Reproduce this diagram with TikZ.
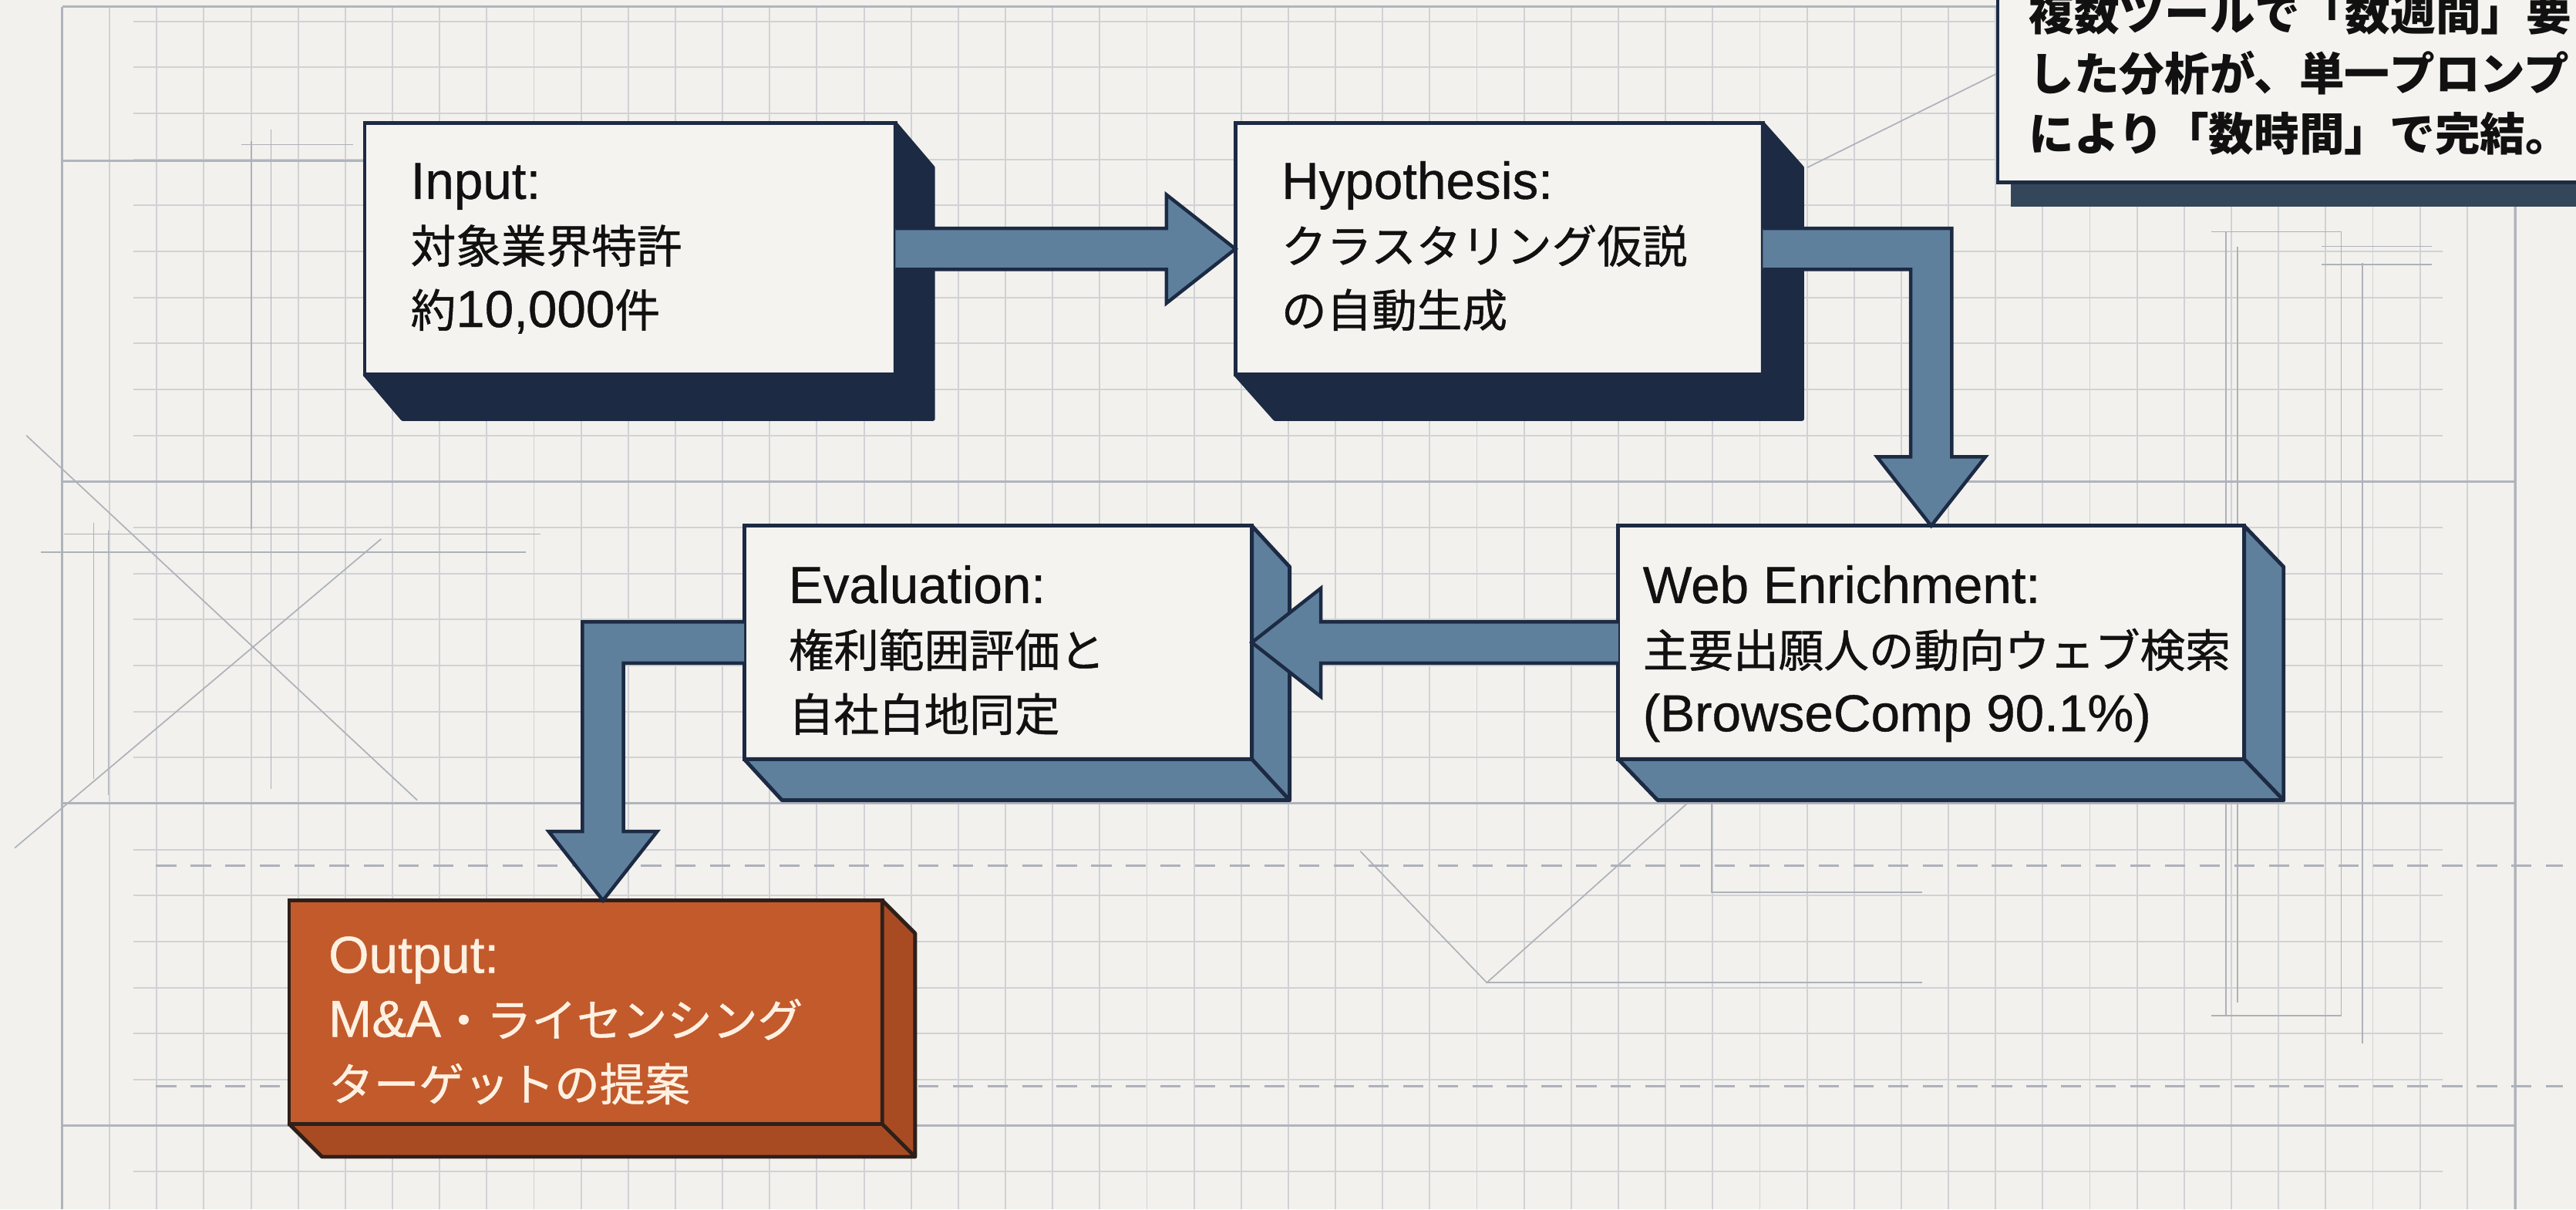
\documentclass[tikz,border=0pt]{standalone}
\usepackage{fontspec}
\setmainfont{Liberation Sans}[FakeBold=0.6]
\newfontfamily\jp{Noto Sans CJK JP}[Scale=0.87, FakeBold=0.8]
\newfontfamily\jpb{Noto Sans CJK JP}[Scale=0.87]
\usetikzlibrary{calc}
\definecolor{bg}{HTML}{F2F1ED}
\definecolor{gridc}{HTML}{D0D2D7}
\definecolor{gridd}{HTML}{B0B4BC}
\definecolor{sketchc}{HTML}{ADB1BA}
\definecolor{navy}{HTML}{1C2A43}
\definecolor{steel}{HTML}{5F809D}
\definecolor{front}{HTML}{F4F3F0}
\definecolor{orng}{HTML}{C25A2C}
\definecolor{oside}{HTML}{A84B23}
\definecolor{obord}{HTML}{2E1F1A}
\definecolor{shadowc}{HTML}{34475A}
\definecolor{ink}{HTML}{111111}
\definecolor{otext}{HTML}{FFF1E2}
\def\ash{12.5}
\def\ahh{33}
\def\ahl{42}
\tikzset{
  frontbox/.style={draw=navy, line width=1.3pt, fill=front, inner sep=0pt, outer sep=0pt},
  outbox/.style={draw=obord, line width=1.3pt, fill=orng, inner sep=0pt, outer sep=0pt},
  navyside/.style={fill=navy, draw=navy, line width=1.3pt, line join=round},
  steelside/.style={fill=steel, draw=navy, line width=1.3pt, line join=round},
  orangeside/.style={fill=oside, draw=obord, line width=1.3pt, line join=round},
  blockarrow/.style={fill=steel, draw=navy, line width=1.2pt, line join=miter},
  boxtext/.style={anchor=base west, inner sep=0pt, outer sep=0pt, text=ink, font=\fontsize{18}{22.2}\selectfont},
  notetext/.style={anchor=base west, inner sep=0pt, outer sep=0pt, text=ink, font=\fontsize{18}{20.8}\selectfont},
  gridminor/.style={draw=gridc, line width=0.5pt},
  gridmajor/.style={draw=gridd, line width=0.8pt},
  sketch/.style={draw=sketchc, line width=0.45pt},
  dashline/.style={draw=sketchc, line width=0.8pt, dash pattern=on 7pt off 5pt},
}
\begin{document}
\begin{tikzpicture}[x=0.02cm, y=-0.02cm]
\useasboundingbox (0,0) rectangle (1568,736);
\clip (0,0) rectangle (1568,736);
\fill[bg] (0,0) rectangle (1568,736);
% grid
\foreach \k in {0,...,52} \draw[gridminor] ({38+28.7*\k},4) -- ({38+28.7*\k},736);
\foreach \k in {0,...,25} \draw[gridminor] (81,{13+28*\k}) -- (1487,{13+28*\k});
\draw[gridmajor] (38,4) -- (38,736);
\draw[gridmajor] (1531,4) -- (1531,736);
\draw[gridmajor] (38,4) -- (1531,4);
\draw[gridmajor] (38,98) -- (345,98);
\draw[gridmajor] (38,293) -- (1531,293);
\draw[gridmajor] (38,489) -- (1531,489);
\draw[gridmajor] (38,685) -- (1531,685);
% sketch lines
\draw[sketch] (16,265) -- (254,487);
\draw[sketch] (9,516) -- (232,328);
\draw[sketch] (153,86) -- (153,322);
\draw[sketch] (165,79) -- (165,480);
\draw[sketch] (57,318) -- (57,474);
\draw[sketch] (66,323) -- (66,484);
\draw[sketch] (147,88) -- (215,88);
\draw[sketch] (39,325) -- (329,325);
\draw[sketch] (25,336) -- (320,336);
\draw[sketch] (828,518) -- (905,598) -- (1028,488);
\draw[sketch] (905,598) -- (1170,598);
\draw[sketch] (1042,488) -- (1042,543) -- (1170,543);
\draw[sketch] (1346,141) -- (1425,141) -- (1425,618) -- (1346,618);
\draw[sketch] (1355,141) -- (1355,618);
\draw[sketch] (1362,150) -- (1362,610);
\draw[sketch] (1438,160) -- (1438,635);
\draw[sketch] (1413,150) -- (1480,150);
\draw[sketch] (1413,161) -- (1480,161);
\draw[sketch] (1100,102) -- (1215,45);
\draw[dashline] (95,527) -- (1560,527);
\draw[dashline] (95,661) -- (1560,661);
% note box
\fill[shadowc] (1224,-10) rectangle (1580,126);
\node[frontbox, minimum width={(1580-1216)*0.02cm}, minimum height={(111+20)*0.02cm}] (note) at ({(1216+1580)/2},{(111-20)/2}) {};
\node[notetext] (notet) at (1235,18.5) {\begin{tabular}[t]{@{}l@{}}{\jpb\bfseries 複数ツールで「数週間」要}\\{\jpb\bfseries した分析が、単一プロンプ}\\{\jpb\bfseries により「数時間」で完結。}\end{tabular}};
% Input box
\node[frontbox, minimum width={(545-222)*0.02cm}, minimum height={(228-75)*0.02cm}] (inp) at ({(222+545)/2},{(75+228)/2}) {};
\path[navyside] (inp.north east) -- ++(23,27) -- ($(inp.south east)+(23,27)$) -- ($(inp.south west)+(23,27)$) -- (inp.south west) -- (inp.south east) -- cycle;
\node[boxtext] (inpt) at (250,121) {\begin{tabular}[t]{@{}l@{}}Input:\\{\jp 対象業界特許}\\{\jp 約}10,000{\jp 件}\end{tabular}};
% Hypothesis box
\node[frontbox, minimum width={(1073-752)*0.02cm}, minimum height={(228-75)*0.02cm}] (hyp) at ({(752+1073)/2},{(75+228)/2}) {};
\path[navyside] (hyp.north east) -- ++(24,27) -- ($(hyp.south east)+(24,27)$) -- ($(hyp.south west)+(24,27)$) -- (hyp.south west) -- (hyp.south east) -- cycle;
\node[boxtext] (hypt) at (780,121) {\begin{tabular}[t]{@{}l@{}}Hypothesis:\\{\jp クラスタリング仮説}\\{\jp の自動生成}\end{tabular}};
% Web box
\node[frontbox, minimum width={(1366-985)*0.02cm}, minimum height={(462-320)*0.02cm}] (web) at ({(985+1366)/2},{(320+462)/2}) {};
\path[steelside] (web.north east) -- ++(24,25) -- ($(web.south east)+(24,25)$) -- ($(web.south west)+(24,25)$) -- (web.south west) -- (web.south east) -- cycle;
\draw[navy, line width=1.3pt] (web.south east) -- ++(24,25);
\node[boxtext] (webt) at (1000,367) {\begin{tabular}[t]{@{}l@{}}Web Enrichment:\\{\jp 主要出願人の動向ウェブ検索}\\(BrowseComp 90.1\%)\end{tabular}};
% Evaluation box
\node[frontbox, minimum width={(762-453)*0.02cm}, minimum height={(462-320)*0.02cm}] (eva) at ({(453+762)/2},{(320+462)/2}) {};
\path[steelside] (eva.north east) -- ++(23,25) -- ($(eva.south east)+(23,25)$) -- ($(eva.south west)+(23,25)$) -- (eva.south west) -- (eva.south east) -- cycle;
\draw[navy, line width=1.3pt] (eva.south east) -- ++(23,25);
\node[boxtext] (evat) at (480,367) {\begin{tabular}[t]{@{}l@{}}Evaluation:\\{\jp 権利範囲評価と}\\{\jp 自社白地同定}\end{tabular}};
% Output box
\node[outbox, minimum width={(537-176)*0.02cm}, minimum height={(684-548)*0.02cm}] (out) at ({(176+537)/2},{(548+684)/2}) {};
\path[orangeside] (out.north east) -- ++(20,20) -- ($(out.south east)+(20,20)$) -- ($(out.south west)+(20,20)$) -- (out.south west) -- (out.south east) -- cycle;
\draw[obord, line width=1.3pt] (out.south east) -- ++(20,20);
\node[boxtext, text=otext] (outt) at (200,592) {\begin{tabular}[t]{@{}l@{}}Output:\\M\&A{\jp ・ライセンシング}\\{\jp ターゲットの提案}\end{tabular}};
\coordinate (outin) at ($(out.north west)+(191,0)$);
% arrows
\filldraw[blockarrow] ($(inp.east)+(0,-\ash)$) -- ($(hyp.west)+(-\ahl,-\ash)$) -- ($(hyp.west)+(-\ahl,-\ahh)$) -- (hyp.west) -- ($(hyp.west)+(-\ahl,\ahh)$) -- ($(hyp.west)+(-\ahl,\ash)$) -- ($(inp.east)+(0,\ash)$);
\filldraw[blockarrow] ($(hyp.east)+(0,-\ash)$) -- ($(web.north |- hyp.east)+(\ash,-\ash)$) -- ($(web.north)+(\ash,-\ahl)$) -- ($(web.north)+(\ahh,-\ahl)$) -- (web.north) -- ($(web.north)+(-\ahh,-\ahl)$) -- ($(web.north)+(-\ash,-\ahl)$) -- ($(web.north |- hyp.east)+(-\ash,\ash)$) -- ($(hyp.east)+(0,\ash)$);
\filldraw[blockarrow] ($(web.west)+(0,-\ash)$) -- ($(eva.east)+(\ahl,-\ash)$) -- ($(eva.east)+(\ahl,-\ahh)$) -- (eva.east) -- ($(eva.east)+(\ahl,\ahh)$) -- ($(eva.east)+(\ahl,\ash)$) -- ($(web.west)+(0,\ash)$);
\filldraw[blockarrow] ($(eva.west)+(0,-\ash)$) -- ($(outin |- eva.west)+(-\ash,-\ash)$) -- ($(outin)+(-\ash,-\ahl)$) -- ($(outin)+(-\ahh,-\ahl)$) -- (outin) -- ($(outin)+(\ahh,-\ahl)$) -- ($(outin)+(\ash,-\ahl)$) -- ($(outin |- eva.west)+(\ash,\ash)$) -- ($(eva.west)+(0,\ash)$);
\end{tikzpicture}
\end{document}
